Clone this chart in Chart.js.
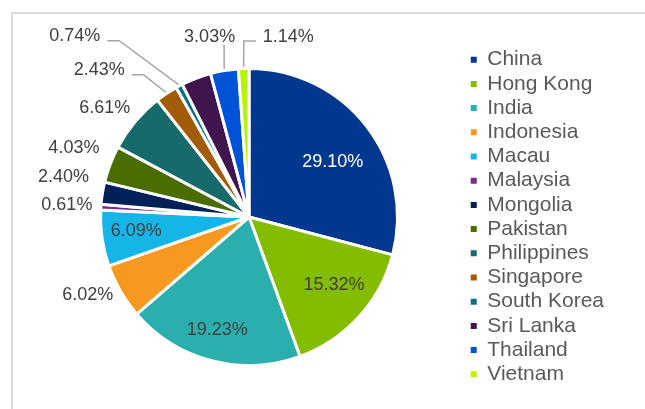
<!DOCTYPE html>
<html>
<head>
<meta charset="utf-8">
<script src="https://cdn.jsdelivr.net/npm/chart.js@4.4.1/dist/chart.umd.min.js"></script>
<style>
  html, body { margin: 0; padding: 0; background: #fff; overflow: hidden; }
  #frame { position: absolute; left: 11px; top: 12px; width: 700px; height: 460px; border: 2px solid #d9d9d9; }
  #myChart { position: absolute; left: 0; top: 0; }
</style>
</head>
<body>
<div id="frame"></div>
<canvas id="myChart" width="645" height="409"></canvas>
<script>
// dados
var paises = ['China', 'Hong Kong', 'India', 'Indonesia', 'Macau', 'Malaysia', 'Mongolia',
  'Pakistan', 'Philippines', 'Singapore', 'South Korea', 'Sri Lanka', 'Thailand', 'Vietnam'];
var percentuais = [29.10, 15.32, 19.23, 6.02, 6.09, 0.61, 2.40, 4.03, 6.61, 2.43, 0.74, 3.25, 3.03, 1.14];
var mostrarRotulo = [true, true, true, true, true, true, true, true, true, true, true, false, true, true];
var rotuloDentro = [true, true, true, false, true, false, false, false, false, false, false, false, false, false];

var cores = ['#00388f', '#84bd00', '#2aaeae', '#f7981f', '#16b5e8', '#7b2b8e', '#002157',
  '#4b6c00', '#176a6a', '#a25b06', '#0a6f83', '#40154e', '#0053d6', '#b6f400'];

// ajuste fino da posicao dos rotulos (px)
var ajusteRotulo = [[-1, 9], [6, -5], [-5, 8], [2, -3], [-7, -3], [2, -3], [-3, -16],
  [-1, -14], [3, -8], [-36, -16], [-74, -42], [0, 0], [-13, -25], [45, -23]];

const fonte = '"Liberation Sans", Arial, sans-serif';

const rotulosPizza = {
  id: 'rotulosPizza',
  afterDatasetsDraw(chart) {
    const ctx = chart.ctx;
    const meta = chart.getDatasetMeta(0);
    ctx.save();
    ctx.font = '18px ' + fonte;
    meta.data.forEach((arc, i) => {
      if (!mostrarRotulo[i]) return;
      const p = arc.getProps(['x', 'y', 'startAngle', 'endAngle', 'outerRadius'], true);
      const meio = (p.startAngle + p.endAngle) / 2;
      const dx = Math.cos(meio), dy = Math.sin(meio);
      const texto = percentuais[i].toFixed(2) + '%';
      const w = ctx.measureText(texto).width;
      let ax, ay, alinhar;
      if (rotuloDentro[i]) {
        ax = p.x + dx * p.outerRadius * 0.72;
        ay = p.y + dy * p.outerRadius * 0.72;
        alinhar = 'center';
      } else {
        ax = p.x + dx * (p.outerRadius + 10.5);
        ay = p.y + dy * (p.outerRadius + 10.5);
        alinhar = dx < -0.2 ? 'right' : (dx > 0.2 ? 'left' : 'center');
      }
      const nx = ajusteRotulo[i][0], ny = ajusteRotulo[i][1];
      ax += nx; ay += ny;
      let esq = alinhar === 'right' ? ax - w : (alinhar === 'center' ? ax - w / 2 : ax);
      let dir = esq + w;

      // linha guia
      if (!rotuloDentro[i] && Math.hypot(nx, ny) > 20) {
        const px = p.x + dx * (p.outerRadius + 1.5);
        const py = p.y + dy * (p.outerRadius + 1.5);
        ctx.strokeStyle = '#a6a6a6';
        ctx.lineWidth = 1.5;
        ctx.beginPath();
        if (px >= esq && px <= dir) {
          ctx.moveTo(px, py);
          ctx.lineTo(px, ay + 9.5);
        } else if (px > dir) {
          ctx.moveTo(dir + 7, ay + 6);
          ctx.lineTo(dir + 19, ay + 6);
          ctx.lineTo(px, py);
        } else {
          ctx.moveTo(esq - 7, ay + 6);
          ctx.lineTo(esq - 19, ay + 6);
          ctx.lineTo(px, py);
        }
        ctx.stroke();
      }

      ctx.fillStyle = i === 0 ? '#ffffff' : '#404040';
      ctx.textAlign = alinhar;
      ctx.textBaseline = 'alphabetic';
      ctx.fillText(texto, ax, ay + 6.4);
    });
    ctx.restore();
  }
};

const ctx = document.getElementById('myChart');

new Chart(ctx, {
  type: 'pie',
  data: {
    labels: paises,
    datasets: [{
      data: percentuais,
      backgroundColor: cores,
      borderColor: '#ffffff',
      borderWidth: 3,
      radius: 148.5
    }]
  },
  options: {
    responsive: false,
    animation: false,
    layout: {
      padding: { left: 30.5, right: 31, top: 25, bottom: 0 }
    },
    plugins: {
      tooltip: { enabled: false },
      legend: {
        position: 'right',
        labels: {
          color: '#595959',
          boxWidth: 6,
          boxHeight: 6,
          padding: 3.2,
          font: { family: fonte, size: 21 },
          generateLabels: (chart) => Chart.overrides.pie.plugins.legend.labels.generateLabels(chart)
            .map(item => Object.assign(item, { lineWidth: 0 }))
        }
      }
    }
  },
  plugins: [rotulosPizza]
});
</script>
</body>
</html>
